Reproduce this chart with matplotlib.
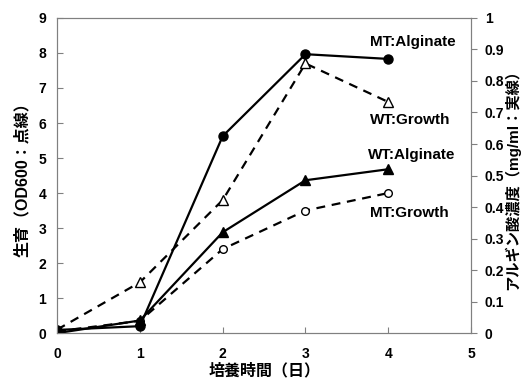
import numpy as np
import matplotlib.pyplot as plt

plt.rcParams['font.family'] = ['Liberation Sans', 'Noto Sans CJK JP', 'DejaVu Sans']
plt.rcParams['font.weight'] = 'bold'

days = [0, 1, 2, 3, 4]
wt_growth = [0.1, 1.45, 3.8, 7.7, 6.6]
mt_growth = [0.05, 0.35, 2.4, 3.5, 4.0]
mt_alginate = [0.01, 0.022, 0.625, 0.885, 0.87]
wt_alginate = [0.0, 0.04, 0.32, 0.485, 0.52]

fig = plt.figure(figsize=(5.24, 3.82), dpi=100)
ax = fig.add_axes([0.109, 0.128, 0.79, 0.825])
ax2 = ax.twinx()

ax.plot(days, wt_growth, 'k--', lw=1.6, marker='^', ms=7, mfc='white', mec='k', mew=1.0, dashes=(4, 3))
ax.plot(days, mt_growth, 'k--', lw=1.6, marker='o', ms=5.5, mfc='white', mec='k', mew=1.0, dashes=(4, 3))
ax2.plot(days, mt_alginate, 'k-', lw=1.6, marker='o', ms=6.5, mfc='k', mec='k')
ax2.plot(days, wt_alginate, 'k-', lw=1.6, marker='^', ms=6.5, mfc='k', mec='k')

ax.set_xlim(0, 5)
ax.set_ylim(0, 9)
ax2.set_ylim(0, 1)
ax.set_xticks(range(6))
ax.set_yticks(range(10))
ax2.set_yticks(np.arange(0, 1.01, 0.1))
ax2.set_yticklabels(['0'] + [f'{v:.1f}' for v in np.arange(0.1, 0.95, 0.1)] + ['1'])

for a in (ax, ax2):
    for s in a.spines.values():
        s.set_color('#808080')
    a.tick_params(colors='#808080', labelcolor='black', labelsize=10, length=4)
ax.tick_params(axis='y', direction='in', pad=8)
ax.tick_params(axis='x', direction='in', pad=10)
ax2.tick_params(axis='y', direction='out', pad=6)

ax.set_xlabel('培養時間（日）', fontsize=11.5, fontweight='bold', labelpad=1)
ax.set_ylabel('生育（OD600：点線）', fontsize=11.5, fontweight='bold', labelpad=6)
ax2.set_ylabel('アルギン酸濃度（mg/ml：実線）', fontsize=11, fontweight='bold', labelpad=0)

ax.text(3.78, 8.3, 'MT:Alginate', fontsize=11, fontweight='bold', va='center')
ax.text(3.78, 6.1, 'WT:Growth', fontsize=11, fontweight='bold', va='center')
ax.text(3.76, 5.1, 'WT:Alginate', fontsize=11, fontweight='bold', va='center')
ax.text(3.78, 3.43, 'MT:Growth', fontsize=11, fontweight='bold', va='center')

fig.savefig('out.png', dpi=100)
